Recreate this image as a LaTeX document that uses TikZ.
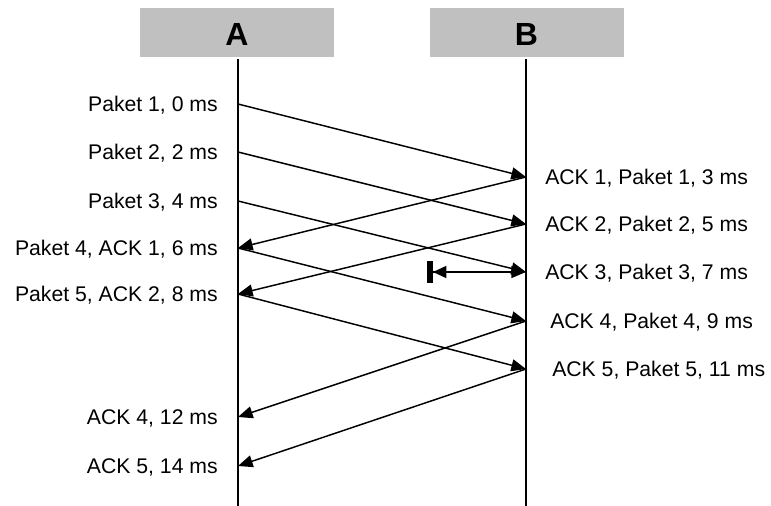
\documentclass[tikz,border=0pt]{standalone}
\usepackage{fontspec}
\setmainfont{Liberation Sans}
\usetikzlibrary{arrows.meta}
\definecolor{headgray}{HTML}{C0C0C0}
\begin{document}
\begin{tikzpicture}[x=0.75pt,y=-0.75pt,
  head/.style={draw=none, fill=headgray, minimum width=145.5pt, minimum height=36.75pt,
    font=\fontsize{24}{28}\selectfont\bfseries, inner sep=0pt, text height=20pt, text depth=0pt},
  life/.style={line width=1.5pt},
  tip/.tip={Triangle[length=11pt,width=9pt]},
  msg/.style={line width=1.1pt, -tip},
  lbl/.style={font=\fontsize{15.9}{19}\selectfont, inner sep=0pt, text height=11.4pt, text depth=0pt},
  lleft/.style={lbl, anchor=east, xshift=-15pt},
  lright/.style={lbl, anchor=west, xshift=#1},
  lright/.default=14.25pt
]
\useasboundingbox (0,0) rectangle (771,506);

% headers
\node[head] (A) at (237,32.5) {A};
\node[head] (B) at (526.5,32.5) {B};

% lifelines
\coordinate (atop) at (238,59);
\coordinate (abot) at (238,506);
\coordinate (btop) at (526,59);
\coordinate (bbot) at (526,506);
\draw[life] (atop) -- (abot);
\draw[life] (btop) -- (bbot);

% event points
\coordinate (a1) at (238,104);
\coordinate (a2) at (238,152);
\coordinate (a3) at (238,201);
\coordinate (a4) at (238,248);
\coordinate (a5) at (238,294);
\coordinate (a6) at (238,417);
\coordinate (a7) at (238,466);
\coordinate (b1) at (526,177);
\coordinate (b2) at (526,224);
\coordinate (b3) at (526,272);
\coordinate (b4) at (526,321);
\coordinate (b5) at (526,369);
\coordinate (c3) at (427,272);

% messages
\draw[msg] (a1) -- (b1);
\draw[msg] (a2) -- (b2);
\draw[msg] (a3) -- (b3);
\draw[msg] (b1) -- (a4);
\draw[msg] (a4) -- (b4);
\draw[msg] (b2) -- (a5);
\draw[msg] (a5) -- (b5);
\draw[msg] (b4) -- (a6);
\draw[msg] (b5) -- (a7);
\draw[line width=1.1pt, {Rectangle[length=4.5pt,width=16.5pt] Triangle[length=10pt,width=9pt]}-tip] (c3) -- (b3);

% labels at A
\node[lleft] (la1) at (a1) {Paket 1, 0 ms};
\node[lleft] (la2) at (a2) {Paket 2, 2 ms};
\node[lleft] (la3) at (a3) {Paket 3, 4 ms};
\node[lleft] (la4) at (a4) {Paket 4, ACK 1, 6 ms};
\node[lleft] (la5) at (a5) {Paket 5, ACK 2, 8 ms};
\node[lleft] (la6) at (a6) {ACK 4, 12 ms};
\node[lleft] (la7) at (a7) {ACK 5, 14 ms};

% labels at B
\node[lright] (lb1) at (b1) {ACK 1, Paket 1, 3 ms};
\node[lright] (lb2) at (b2) {ACK 2, Paket 2, 5 ms};
\node[lright] (lb3) at (b3) {ACK 3, Paket 3, 7 ms};
\node[lright=18pt] (lb4) at (b4) {ACK 4, Paket 4, 9 ms};
\node[lright=19.5pt] (lb5) at (b5) {ACK 5, Paket 5, 11 ms};
\end{tikzpicture}
\end{document}
